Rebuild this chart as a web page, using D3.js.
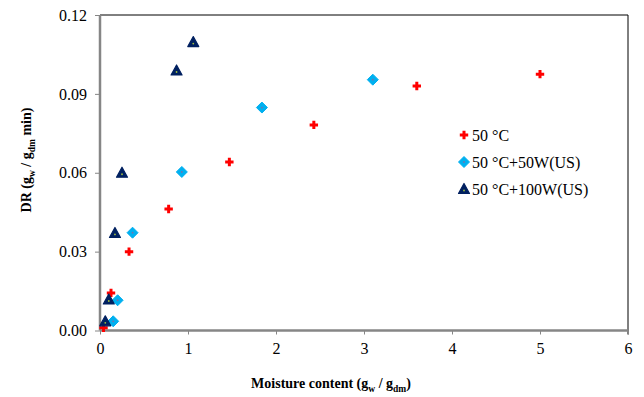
<!DOCTYPE html>
<html>
<head>
<meta charset="utf-8">
<script src="https://cdn.jsdelivr.net/npm/d3@7"></script>
<style>
  html, body { margin: 0; padding: 0; background: #fff; }
  svg { display: block; font-family: "Liberation Serif", "Times New Roman", serif; }
  .tick text { font-size: 16px; }
</style>
</head>
<body>
<svg id="chart" width="644" height="397"></svg>
<script>
// Drying rate vs moisture content for three drying conditions
const seriesNames = ["50 °C", "50 °C+50W(US)", "50 °C+100W(US)"];

const hotAirX = [0.04, 0.125, 0.33, 0.78, 1.47, 2.43, 3.6, 5.0];
const hotAirY = [0.001, 0.0143, 0.030, 0.0462, 0.0641, 0.0782, 0.0930, 0.0975];

const us50X = [0.15, 0.2, 0.37, 0.93, 1.84, 3.1];
const us50Y = [0.0035, 0.0115, 0.0372, 0.0603, 0.0848, 0.0954];

const us100X = [0.06, 0.1, 0.17, 0.25, 0.87, 1.06];
const us100Y = [0.0035, 0.0118, 0.0371, 0.0600, 0.0989, 0.1097];

const xTicks = [0, 1, 2, 3, 4, 5, 6];
const yTicks = [0, 0.03, 0.06, 0.09, 0.12];

const svg = d3.select("#chart");
const plotL = 100, plotR = 628, plotT = 15, plotB = 330.5;
const serif = "'Liberation Serif', 'Times New Roman', serif";

const x = d3.scaleLinear().domain([0, 6]).range([plotL, plotR]);
const y = d3.scaleLinear().domain([0, 0.12]).range([plotB, plotT]);

// frame: black top and right edges
svg.append("line").attr("x1", plotL).attr("x2", plotR).attr("y1", plotT).attr("y2", plotT)
  .attr("stroke", "#000").attr("stroke-width", 1);
svg.append("line").attr("x1", plotR).attr("x2", plotR).attr("y1", plotT).attr("y2", plotB + 4)
  .attr("stroke", "#000").attr("stroke-width", 1);

// axes
const yAxis = svg.append("g").attr("transform", `translate(${plotL},0)`)
  .call(d3.axisLeft(y).tickValues(yTicks).tickFormat(d3.format(".2f")).tickSize(5).tickPadding(8));
const xAxis = svg.append("g").attr("transform", `translate(0,${plotB})`)
  .call(d3.axisBottom(x).tickValues(xTicks).tickFormat(d3.format("d")).tickSize(4).tickPadding(8));

[yAxis, xAxis].forEach(g => {
  g.attr("font-family", serif).attr("font-size", 16);
  g.select(".domain").attr("stroke", "#868686").attr("stroke-width", 2.5);
  g.selectAll(".tick line").attr("stroke", "#868686").attr("stroke-width", 1);
  g.selectAll(".tick text").attr("fill", "#000").attr("font-size", 16);
});
xAxis.select(".domain").attr("d", `M${plotL},0H${plotR}`);
yAxis.select(".domain").attr("d", `M0,${plotT}V${plotB}`);

// axis titles
const xt = svg.append("text").attr("x", 331).attr("y", 388).attr("text-anchor", "middle")
  .style("font-weight", "bold").style("font-size", "14px");
xt.append("tspan").text("Moisture content (g");
xt.append("tspan").attr("dy", 4).style("font-size", "9.5px").text("w");
xt.append("tspan").attr("dy", -4).text(" / g");
xt.append("tspan").attr("dy", 4).style("font-size", "9.5px").text("dm");
xt.append("tspan").attr("dy", -4).text(")");

const yt = svg.append("text").attr("transform", `translate(31,160) rotate(-90)`)
  .attr("text-anchor", "middle").style("font-weight", "bold").style("font-size", "14px");
yt.append("tspan").text("DR (g");
yt.append("tspan").attr("dy", 4).style("font-size", "9.5px").text("w");
yt.append("tspan").attr("dy", -4).text(" / g");
yt.append("tspan").attr("dy", 4).style("font-size", "9.5px").text("dm");
yt.append("tspan").attr("dy", -4).text(" min)");

// marker drawers
function cross(g, cx, cy) {
  g.append("path").attr("transform", `translate(${cx},${cy})`)
    .attr("d", "M-1.5,-4.2H1.5V-1.5H4.2V1.5H1.5V4.2H-1.5V1.5H-4.2V-1.5H-1.5Z")
    .attr("fill", "#FF0000");
}
function diamond(g, cx, cy) {
  g.append("path").attr("transform", `translate(${cx},${cy})`)
    .attr("d", "M0,-5.5L5.5,0L0,5.5L-5.5,0Z")
    .attr("fill", "#00B0F0").attr("stroke", "#00B0F0").attr("stroke-width", 1).attr("stroke-linejoin", "round");
  g.append("circle").attr("cx", cx).attr("cy", cy).attr("r", 0.9).attr("fill", "#7a6fa8");
}
function triangle(g, cx, cy) {
  g.append("path").attr("transform", `translate(${cx},${cy})`)
    .attr("d", "M0,-5.5L5.5,4.5L-5.5,4.5Z")
    .attr("fill", "#002060").attr("stroke", "#002060").attr("stroke-width", 1.2).attr("stroke-linejoin", "round");
  g.append("circle").attr("cx", cx).attr("cy", cy + 1.5).attr("r", 0.9).attr("fill", "#9fbf3f");
}

const pts = svg.append("g");
const drawers = [cross, diamond, triangle];
const sets = [[hotAirX, hotAirY], [us50X, us50Y], [us100X, us100Y]];
sets.forEach((s, i) => {
  s[0].forEach((xv, j) => drawers[i](pts, x(xv), y(s[1][j])));
});

// legend
const legend = svg.append("g");
seriesNames.forEach((name, i) => {
  const ly = 135 + i * 27;
  drawers[i](legend, 464, ly);
  legend.append("text").attr("x", 472).attr("y", ly + 5.5).style("font-size", "16px").text(name);
});
</script>
</body>
</html>
